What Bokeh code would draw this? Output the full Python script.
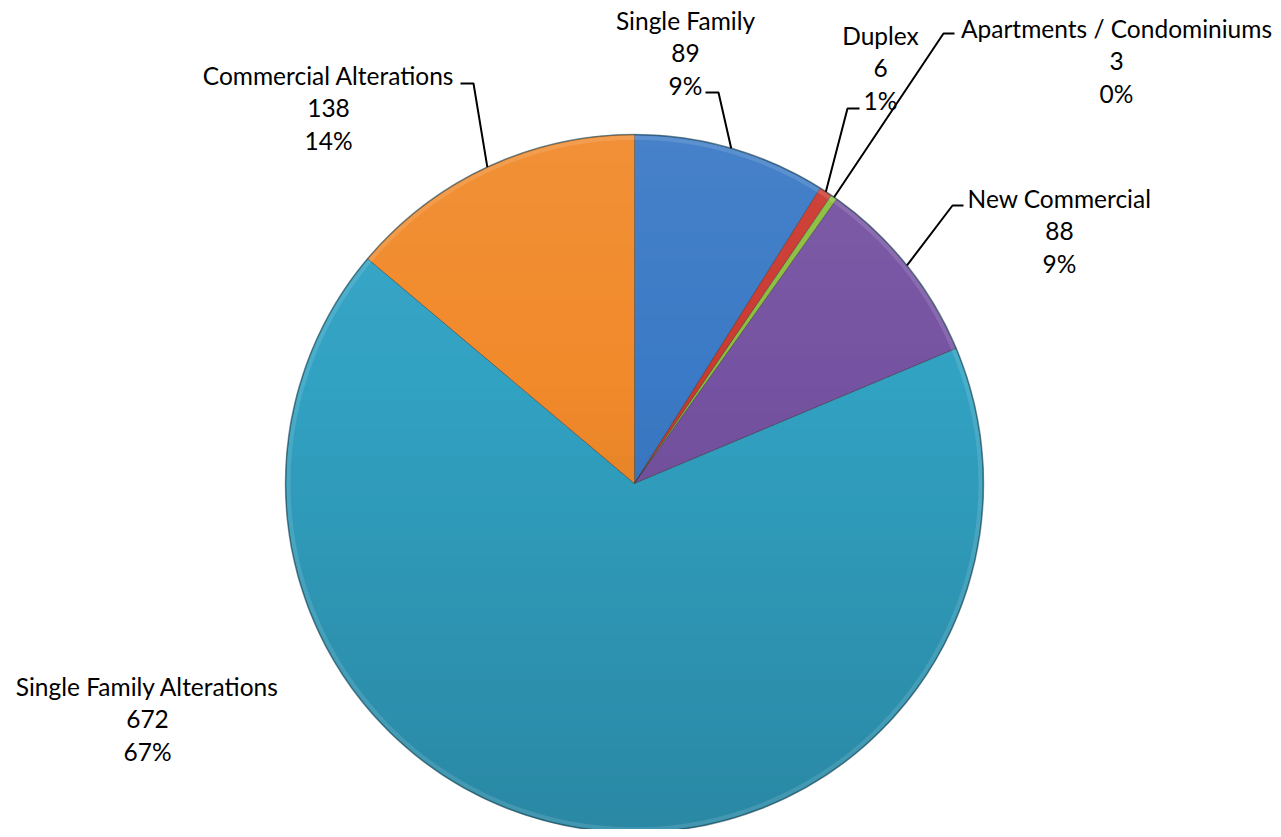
import numpy as np
from bokeh.plotting import figure
from bokeh.models import Range1d, ColumnDataSource
from bokeh.core.properties import value
from bokeh.embed import file_html
from bokeh.resources import INLINE

# ---- data ----
categories = ["Single Family", "Duplex", "Apartments / Condominiums",
              "New Commercial", "Single Family Alterations", "Commercial Alterations"]
counts = [89, 6, 3, 88, 672, 138]
colors = ["#3B7AC6", "#CB3A31", "#8DBE3F", "#7653A2", "#32A2C3", "#F18A2B"]

# ---- layout (screen px) ----
W, H = 1273, 829
CX, CY, R = 634, 483, 349
FONT = "Lato"
FS = "24.5px"
LINE = 32.5
# label centre x, first-line y, leader elbow (x, y), leader start (x, y)
label_pos = {
    "Single Family": (685, 20, (718, 92), (705, 92)),
    "Duplex": (880, 35, (847, 108), (859, 108)),
    "Apartments / Condominiums": (1116, 28, (943, 33), (954, 33)),
    "New Commercial": (1059, 198, (952, 205), (963, 205)),
    "Single Family Alterations": (147, 686, None, None),
    "Commercial Alterations": (328, 75, (473, 83), (460, 83)),
}

total = sum(counts)
fr = np.array(counts) / total
cum = np.concatenate([[0], np.cumsum(fr)])
start = np.pi / 2 - cum[:-1] * 2 * np.pi
end = np.pi / 2 - cum[1:] * 2 * np.pi
mid = (start + end) / 2

p = figure(width=W, height=H, output_backend="svg", toolbar_location=None,
           x_range=Range1d(0, W), y_range=Range1d(-H, 0),
           min_border=0, outline_line_color=None)
p.axis.visible = False
p.grid.visible = False
p.background_fill_color = "white"
p.border_fill_color = "white"

src = ColumnDataSource(dict(cat=categories, start=start, end=end, color=colors))
p.wedge(x=CX, y=-CY, radius=R, start_angle="start", end_angle="end",
        direction="clock", fill_color="color", line_color="#2a2a2a",
        line_alpha=0.4, line_width=1, source=src)

# vertical shading overlay (soft 3D look)
N = 50
ys = np.linspace(-R, R, N + 1)
for i in range(N):
    y1, y2 = ys[i], ys[i + 1]
    t = np.linspace(y1, y2, 6)
    xr = np.sqrt(np.clip(R**2 - t**2, 0, None))
    px = np.concatenate([CX + xr, (CX - xr)[::-1]])
    py = np.concatenate([-(CY + t), (-(CY + t))[::-1]])
    f = (i + 0.5) / N  # 0 at top, 1 at bottom
    if f < 0.35:
        p.patch(px, py, fill_color="white", fill_alpha=0.06 * (0.35 - f) / 0.35,
                line_color=None)
    else:
        p.patch(px, py, fill_color="black", fill_alpha=0.16 * (f - 0.35) / 0.65,
                line_color=None)

# soft rim (bevel edge)
p.circle(x=[CX], y=[-CY], radius=R - 3, fill_color=None, line_color="white",
         line_alpha=0.12, line_width=4)
p.circle(x=[CX], y=[-CY], radius=R, fill_color=None, line_color="#1f4f60",
         line_alpha=0.5, line_width=1.5)

# labels and leader lines
for k, cat in enumerate(categories):
    lx, ly, elbow, tip = label_pos[cat]
    pct = f"{round(fr[k] * 100):.0f}%"
    lines = [cat, str(counts[k]), pct]
    for j, s in enumerate(lines):
        p.text(x=[lx], y=[-(ly + j * LINE)], text=[s], text_align="center",
               text_baseline="middle", text_font=value(FONT), text_font_size=FS,
               text_color="black")
    if elbow is not None:
        ex = CX + R * np.cos(mid[k])
        ey = CY - R * np.sin(mid[k])
        p.line(x=[tip[0], elbow[0], ex], y=[-tip[1], -elbow[1], -ey],
               line_color="black", line_width=2)

open("out.html", "w").write(file_html(p, INLINE))
